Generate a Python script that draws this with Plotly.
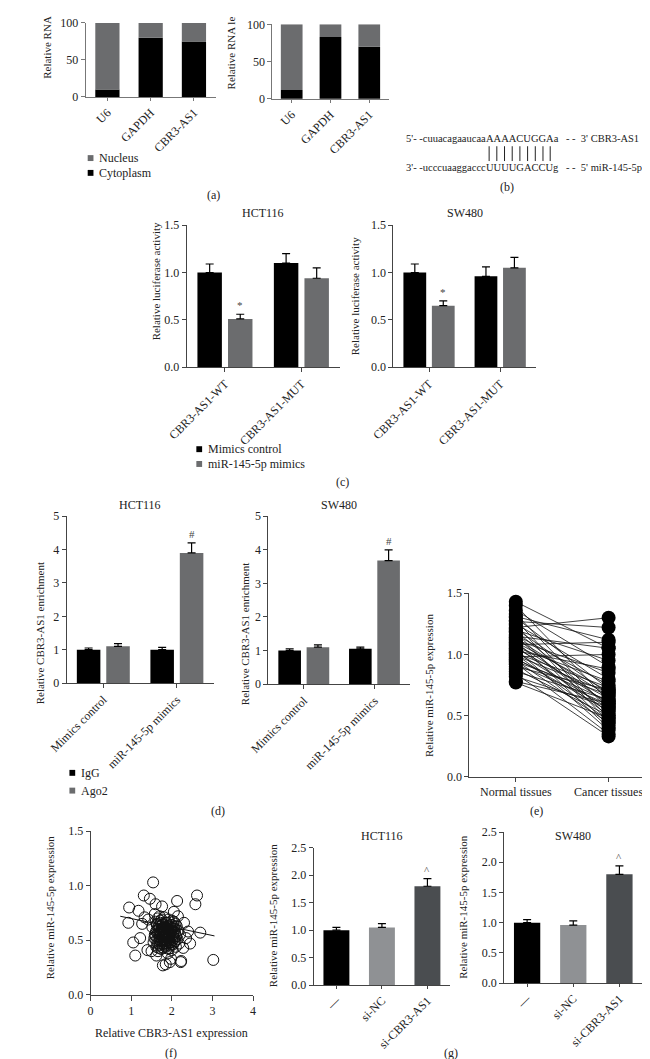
import plotly.graph_objects as go

W, H = 650, 1059
FONT = "Liberation Serif"
GREY = "#6b6c6e"

# ---------------- data ----------------
a_cats = ["U6", "GAPDH", "CBR3-AS1"]
a_left_cyto = [10, 80, 75]
a_right_cyto = [12, 83, 70]
a_total = [100, 100, 100]

c_cats = ["CBR3-AS1-WT", "CBR3-AS1-MUT"]
c_hct_ctrl = [1.0, 1.1]
c_hct_ctrl_err = [0.09, 0.10]
c_hct_mim = [0.51, 0.94]
c_hct_mim_err = [0.05, 0.11]
c_sw_ctrl = [1.0, 0.96]
c_sw_ctrl_err = [0.09, 0.10]
c_sw_mim = [0.65, 1.05]
c_sw_mim_err = [0.05, 0.11]
c_marks = ["*", ""]

d_cats = ["Mimics control", "miR-145-5p mimics"]
d_hct_igg = [1.0, 1.0]
d_hct_igg_err = [0.05, 0.07]
d_hct_ago = [1.1, 3.9]
d_hct_ago_err = [0.08, 0.30]
d_sw_igg = [1.0, 1.05]
d_sw_igg_err = [0.05, 0.05]
d_sw_ago = [1.1, 3.68]
d_sw_ago_err = [0.07, 0.32]
d_marks = ["", "#"]

e_cats = ["Normal tissues", "Cancer tissues"]
e_normal = [1.43, 1.40, 1.36, 1.33, 1.31, 1.30, 1.28, 1.27, 1.25, 1.24, 1.22, 1.21,
            1.20, 1.19, 1.18, 1.16, 1.15, 1.14, 1.13, 1.12, 1.11, 1.10, 1.09, 1.08,
            1.07, 1.06, 1.05, 1.04, 1.03, 1.02, 1.01, 1.00, 0.99, 0.98, 0.97, 0.96,
            0.95, 0.94, 0.93, 0.92, 0.90, 0.88, 0.86, 0.84, 0.82, 0.78, 0.77]
e_cancer = [1.05, 0.62, 0.90, 0.55, 1.12, 0.72, 0.48, 1.22, 0.80, 0.45, 1.30, 0.68,
            0.95, 0.58, 0.42, 0.75, 1.05, 0.52, 0.66, 0.85, 0.40, 0.70, 0.60, 1.10,
            0.50, 0.78, 0.64, 0.38, 0.88, 0.56, 0.73, 0.46, 0.69, 1.00, 0.54, 0.62,
            0.44, 0.67, 0.35, 0.59, 0.71, 0.50, 0.63, 0.33, 0.57, 0.60, 0.48]

f_x = [0.95, 0.93, 1.05, 1.10, 1.18, 1.22, 1.31, 1.46, 1.54, 1.60, 1.76, 2.13, 2.62,
       2.58, 2.70, 3.02, 1.40, 1.33, 1.27, 2.35, 2.45, 2.23, 1.78, 1.85, 1.98, 2.22,
       1.62, 1.50, 2.15, 2.30, 1.42, 1.58, 2.05, 1.70, 2.40, 2.28, 1.95, 1.90,
       1.52, 1.55, 1.58, 1.60, 1.62, 1.64, 1.65, 1.67, 1.68, 1.70,
       1.71, 1.72, 1.74, 1.75, 1.76, 1.78, 1.79, 1.80, 1.81, 1.82,
       1.84, 1.85, 1.86, 1.88, 1.89, 1.90, 1.91, 1.92, 1.94, 1.95,
       1.96, 1.98, 1.99, 2.00, 2.02, 2.03, 2.05, 2.06, 2.08, 2.10,
       2.12, 2.14, 2.16, 2.18, 2.20, 1.57, 1.63, 1.69, 1.73, 1.77,
       1.83, 1.87, 1.93, 1.97, 2.01, 2.07, 2.11, 1.66, 1.78, 1.88,
       1.96, 2.04, 1.72, 1.84, 1.92, 2.09, 1.61, 1.81, 2.00, 1.75,
       1.62, 1.66, 1.70, 1.74, 1.78, 1.82, 1.86, 1.90, 1.94, 1.98, 2.02, 2.06,
       1.64, 1.68, 1.72, 1.76, 1.80, 1.84, 1.88, 1.92, 1.96, 2.00, 2.04, 2.08,
       1.60, 1.65, 1.70, 1.75, 1.80, 1.85, 1.90, 1.95, 2.00, 2.05,
       1.67, 1.73, 1.79, 1.85, 1.91, 1.97, 2.03, 1.71, 1.77, 1.83, 1.89]
f_y = [0.80, 0.66, 0.48, 0.36, 0.77, 0.52, 0.91, 0.88, 1.03, 0.83, 0.81, 0.86, 0.91,
       0.83, 0.57, 0.32, 0.41, 0.71, 0.65, 0.52, 0.47, 0.31, 0.27, 0.28, 0.33, 0.30,
       0.36, 0.40, 0.72, 0.66, 0.69, 0.74, 0.76, 0.72, 0.58, 0.43, 0.30, 0.38,
       0.62, 0.48, 0.55, 0.67, 0.44, 0.59, 0.70, 0.51, 0.63, 0.46,
       0.57, 0.68, 0.42, 0.60, 0.53, 0.65, 0.49, 0.58, 0.71, 0.45,
       0.62, 0.54, 0.47, 0.66, 0.52, 0.43, 0.60, 0.69, 0.50, 0.56,
       0.64, 0.46, 0.58, 0.41, 0.61, 0.53, 0.67, 0.48, 0.57, 0.44,
       0.63, 0.51, 0.59, 0.47, 0.55, 0.52, 0.64, 0.56, 0.49, 0.61,
       0.58, 0.45, 0.53, 0.62, 0.50, 0.60, 0.54, 0.40, 0.43, 0.63,
       0.48, 0.57, 0.66, 0.51, 0.42, 0.65, 0.58, 0.55, 0.68, 0.50,
       0.50, 0.56, 0.62, 0.47, 0.53, 0.60, 0.66, 0.49, 0.55, 0.61, 0.46, 0.52,
       0.65, 0.43, 0.58, 0.64, 0.51, 0.44, 0.57, 0.63, 0.45, 0.59, 0.62, 0.49,
       0.54, 0.47, 0.53, 0.69, 0.62, 0.50, 0.56, 0.48, 0.64, 0.58,
       0.60, 0.55, 0.46, 0.66, 0.52, 0.57, 0.55, 0.50, 0.57, 0.53, 0.61]
f_fit_x = [0.73, 3.05]
f_fit_y = [0.72, 0.54]

g_cats = ["—", "si-NC", "si-CBR3-AS1"]
g_colors = ["#000000", "#8f9194", "#4a4d50"]
g_hct = [1.0, 1.05, 1.8]
g_hct_err = [0.05, 0.07, 0.14]
g_sw = [1.0, 0.96, 1.8]
g_sw_err = [0.05, 0.07, 0.14]
g_marks = ["", "", "^"]

# ---------------- helpers ----------------
def px(x):
    return x / W

def py(y):
    return 1 - y / H

def dom_x(x0, x1):
    return [px(x0), px(x1)]

def dom_y(top, bottom):
    return [py(bottom), py(top)]

tf = dict(family=FONT, size=12, color="#222")

def axis(domain, anchor, **kw):
    d = dict(domain=domain, anchor=anchor, showline=True, linecolor="#444", linewidth=1,
             ticks="outside", ticklen=4, tickcolor="#444", tickwidth=1, showgrid=False,
             zeroline=False, tickfont=tf, fixedrange=True)
    d.update(kw)
    return d

fig = go.Figure()
ann = []
shapes = []

def err(arr):
    return dict(type="data", array=arr, arrayminus=[0] * len(arr), symmetric=False,
                color="#000", thickness=1.2, width=4)

def add_bar(cats, vals, errs, color, n, width, offset, marks=None):
    fig.add_trace(go.Bar(x=cats, y=vals, width=width, offset=offset, marker_color=color,
                         marker_line_width=0, error_y=err(errs) if errs else None,
                         xaxis=f"x{n}", yaxis=f"y{n}", showlegend=False))
    if marks:
        for i, m in enumerate(marks):
            if m:
                ann.append(dict(x=i + offset + width / 2, y=vals[i] + errs[i], xref=f"x{n}",
                                yref=f"y{n}", text=m, showarrow=False, yanchor="bottom",
                                yshift=1, font=dict(family=FONT, size=11, color="#444")))

# (a) stacked bars
for n, cyto in ((1, a_left_cyto), (2, a_right_cyto)):
    nuc = [t - c for t, c in zip(a_total, cyto)]
    fig.add_trace(go.Bar(x=a_cats, y=cyto, width=0.56, offset=-0.28, marker_color="#000",
                         marker_line_width=0, xaxis=f"x{n}", yaxis=f"y{n}", showlegend=False))
    fig.add_trace(go.Bar(x=a_cats, y=nuc, base=cyto, width=0.56, offset=-0.28,
                         marker_color=GREY, marker_line_width=0, xaxis=f"x{n}",
                         yaxis=f"y{n}", showlegend=False))

# (c)
add_bar(c_cats, c_hct_ctrl, c_hct_ctrl_err, "#000", 3, 0.32, -0.36)
add_bar(c_cats, c_hct_mim, c_hct_mim_err, GREY, 3, 0.32, 0.04, c_marks)
add_bar(c_cats, c_sw_ctrl, c_sw_ctrl_err, "#000", 4, 0.32, -0.36)
add_bar(c_cats, c_sw_mim, c_sw_mim_err, GREY, 4, 0.32, 0.04, c_marks)

# (d)
add_bar(d_cats, d_hct_igg, d_hct_igg_err, "#000", 5, 0.32, -0.36)
add_bar(d_cats, d_hct_ago, d_hct_ago_err, GREY, 5, 0.32, 0.04, d_marks)
add_bar(d_cats, d_sw_igg, d_sw_igg_err, "#000", 6, 0.32, -0.36)
add_bar(d_cats, d_sw_ago, d_sw_ago_err, GREY, 6, 0.32, 0.04, d_marks)

# (e) paired lines
lx, ly = [], []
for a, b in zip(e_normal, e_cancer):
    lx += [e_cats[0], e_cats[1], None]
    ly += [a, b, None]
fig.add_trace(go.Scatter(x=lx, y=ly, mode="lines", line=dict(color="#111", width=0.8),
                         xaxis="x7", yaxis="y7", showlegend=False))
fig.add_trace(go.Scatter(x=[e_cats[0]] * len(e_normal), y=e_normal, mode="markers",
                         marker=dict(color="#000", size=14), xaxis="x7", yaxis="y7",
                         showlegend=False))
fig.add_trace(go.Scatter(x=[e_cats[1]] * len(e_cancer), y=e_cancer, mode="markers",
                         marker=dict(color="#000", size=14), xaxis="x7", yaxis="y7",
                         showlegend=False))

# (f) scatter
fig.add_trace(go.Scatter(x=f_x, y=f_y, mode="markers",
                         marker=dict(symbol="circle-open", size=11, color="#111",
                                     line=dict(width=1)),
                         xaxis="x8", yaxis="y8", showlegend=False))
fig.add_trace(go.Scatter(x=f_fit_x, y=f_fit_y, mode="lines", line=dict(color="#111", width=1),
                         xaxis="x8", yaxis="y8", showlegend=False))

# (g)
add_bar(g_cats, g_hct, g_hct_err, g_colors, 9, 0.57, -0.285, g_marks)
add_bar(g_cats, g_sw, g_sw_err, g_colors, 10, 0.57, -0.285, g_marks)

# ---------------- axes ----------------
L = {}
def set_axes(n, xd, yd, xkw, ykw):
    L[f"xaxis{n}"] = axis(xd, f"y{n}", **xkw)
    L[f"yaxis{n}"] = axis(yd, f"x{n}", **ykw)

cat3 = dict(type="category", range=[-0.5, 2.5], tickangle=-45, ticklen=3)
cat2 = dict(type="category", range=[-0.5, 1.5], tickangle=-45, ticklen=4)
grey_ax = dict(linecolor="#777", tickcolor="#777")

set_axes(1, dom_x(58, 193), dom_y(8, 83), dict(cat3, categoryarray=a_cats, **grey_ax),
         dict(range=[0, 100], dtick=50, **grey_ax))
set_axes(2, dom_x(252, 373), dom_y(9.5, 85), dict(cat3, categoryarray=a_cats, **grey_ax),
         dict(range=[0, 100], dtick=50, **grey_ax))
set_axes(3, dom_x(163, 322), dom_y(213, 357), dict(cat2, categoryarray=c_cats),
         dict(range=[0, 1.5], dtick=0.5, tickformat=".1f"))
set_axes(4, dom_x(378, 526), dom_y(213, 357), dict(cat2, categoryarray=c_cats),
         dict(range=[0, 1.5], dtick=0.5, tickformat=".1f"))
set_axes(5, dom_x(38, 191), dom_y(508, 677), dict(cat2, categoryarray=d_cats),
         dict(range=[0, 5], dtick=1))
set_axes(6, dom_x(248, 395), dom_y(508, 678), dict(cat2, categoryarray=d_cats),
         dict(range=[0, 5], dtick=1))
set_axes(7, dom_x(457, 650), dom_y(586, 772),
         dict(type="category", range=[-0.5, 1.5], categoryarray=e_cats, tickangle=0),
         dict(range=[0, 1.5], dtick=0.5, tickformat=".1f"))
set_axes(8, dom_x(63, 232), dom_y(827, 993), dict(range=[0, 4], dtick=1, ticklen=5),
         dict(range=[0, 1.5], dtick=0.5, tickformat=".1f"))
set_axes(9, dom_x(295, 437), dom_y(844, 983), dict(cat3, categoryarray=g_cats),
         dict(range=[0, 2.5], dtick=0.5, tickformat=".1f"))
set_axes(10, dom_x(493, 637), dom_y(828, 981), dict(cat3, categoryarray=g_cats),
         dict(range=[0, 2.5], dtick=0.5, tickformat=".1f"))

# ---------------- text ----------------
def text(x, y, s, size=12, angle=0, xanchor="center", yanchor="middle", color="#222"):
    ann.append(dict(x=px(x), y=py(y), xref="paper", yref="paper", text=s, showarrow=False,
                    textangle=angle, xanchor=xanchor, yanchor=yanchor, borderpad=0,
                    borderwidth=0, font=dict(family=FONT, size=size, color=color)))

# y-axis titles (the top two are cropped in the source figure)
text(18, 1, "Relative RNA", size=11, angle=-90, yanchor="top")
text(210, 1, "Relative RNA le", size=11, angle=-90, yanchor="top")
text(132, 270, "Relative luciferase activity", size=11, angle=-90)
text(338, 285, "Relative luciferase activity", size=11, angle=-90)
text(10, 627, "Relative CBR3-AS1 enrichment", size=11, angle=-90)
text(223, 627, "Relative CBR3-AS1 enrichment", size=11, angle=-90)
text(415, 680, "Relative miR-145-5p expression", size=11, angle=-90)
text(21, 905, "Relative miR-145-5p expression", size=11, angle=-90)
text(253, 913, "Relative miR-145-5p expression", size=11, angle=-90)
text(450, 904, "Relative miR-145-5p expression", size=11, angle=-90)
text(147, 1032, "Relative CBR3-AS1 expression")

# panel titles
text(242, 201, "HCT116")
text(452, 201, "SW480")
text(114, 497, "HCT116")
text(321, 497, "SW480")
text(366, 832, "HCT116")
text(565, 832, "SW480")

# panel letters
for lx_, ly_, s in ((191, 182, "(a)"), (496, 174, "(b)"), (325, 473, "(c)"),
                    (195, 807, "(d)"), (527, 807, "(e)"), (147, 1052, "(f)"),
                    (438, 1052, "(g)")):
    text(lx_, ly_, s)

# (b) sequence alignment
SX = 474
SS = 10.5
text(SX, 125, "5'- -cuuacagaaucaa", size=SS, xanchor="right")
text(SX, 125, "AAAACUGGAa", size=SS, xanchor="left")
text(557, 125, "- -&nbsp;&nbsp;3' CBR3-AS1", size=SS, xanchor="left")
text(SX, 155, "3'- -ucccuaaggaccc", size=SS, xanchor="right")
text(SX, 155, "UUUUGACCUg", size=SS, xanchor="left")
text(557, 155, "- -&nbsp;&nbsp;5' miR-145-5p", size=SS, xanchor="left")
for xv in (477.5, 485.5, 493.5, 501.5, 509.5, 517.5, 525.5, 533.5, 541):
    shapes.append(dict(type="line", xref="paper", yref="paper", x0=px(xv), x1=px(xv),
                       y0=py(133), y1=py(148), line=dict(color="#222", width=1)))

# legends
def legend_item(x, y, color, label):
    shapes.append(dict(type="rect", xref="paper", yref="paper", x0=px(x), x1=px(x + 6),
                       y0=py(y + 3), y1=py(y - 3), fillcolor=color, line=dict(width=0)))
    text(x + 12, y, label, xanchor="left")

legend_item(60, 145, GREY, "Nucleus")
legend_item(60, 160, "#000", "Cytoplasm")
legend_item(173, 440, "#000", "Mimics control")
legend_item(173, 455, GREY, "miR-145-5p mimics")
legend_item(41, 768, "#000", "IgG")
legend_item(41, 786, GREY, "Ago2")

fig.update_layout(width=W, height=H, margin=dict(l=0, r=0, t=0, b=0),
                  paper_bgcolor="white", plot_bgcolor="white", barmode="overlay",
                  showlegend=False, annotations=ann, shapes=shapes,
                  font=dict(family=FONT, size=12, color="#222"), **L)

fig.write_html("out.html")
